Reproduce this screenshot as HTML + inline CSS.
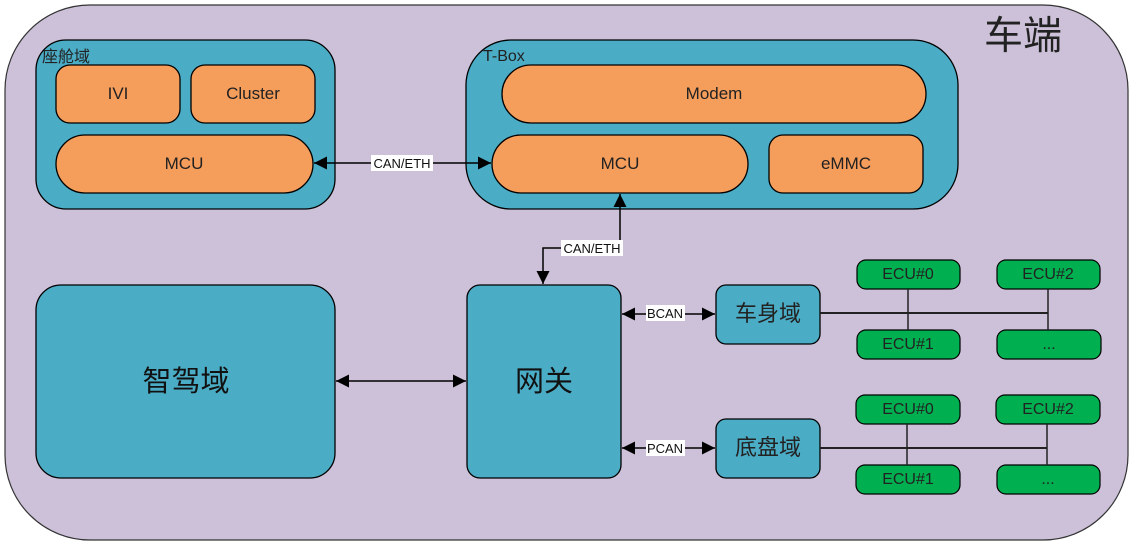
<!DOCTYPE html>
<html><head><meta charset="utf-8"><style>
html,body{margin:0;padding:0;background:#fff;}
svg{display:block;font-family:"Liberation Sans","Noto Sans CJK SC",sans-serif;}
</style></head><body>
<svg width="1136" height="548" viewBox="0 0 1136 548" xmlns="http://www.w3.org/2000/svg">
<defs>
<marker id="a" viewBox="0 0 10 10" refX="10" refY="5" markerWidth="15" markerHeight="13" markerUnits="userSpaceOnUse" orient="auto-start-reverse"><path d="M0,0L10,5L0,10z" fill="#000"/></marker>
</defs>
<rect x="5" y="5" width="1123" height="535" rx="85" fill="#ccc1d9" stroke="#333" stroke-width="1.2"/>
<text x="1023" y="49" font-size="39" fill="#222" text-anchor="middle">车端</text>

<g stroke="#000" stroke-width="1.3">
<rect x="36" y="40" width="299" height="169" rx="30" fill="#4bacc6"/>
<rect x="56" y="65" width="124" height="58" rx="14" fill="#f59d5b"/>
<rect x="191" y="65" width="124" height="58" rx="14" fill="#f59d5b"/>
<rect x="56" y="135" width="257" height="58" rx="29" fill="#f59d5b"/>
<rect x="466" y="40" width="492" height="169" rx="45" fill="#4bacc6"/>
<rect x="502" y="65" width="424" height="58" rx="29" fill="#f59d5b"/>
<rect x="492" y="135" width="256" height="58" rx="29" fill="#f59d5b"/>
<rect x="769" y="135" width="154" height="58" rx="14" fill="#f59d5b"/>
<rect x="36" y="285" width="299" height="193" rx="25" fill="#4bacc6"/>
<rect x="467" y="285" width="154" height="193" rx="13" fill="#4bacc6"/>
<rect x="716" y="285" width="104" height="59" rx="10" fill="#4bacc6"/>
<rect x="716" y="419" width="104" height="59" rx="10" fill="#4bacc6"/>
</g>
<g stroke="#000" stroke-width="1.2" fill="#00b050">
<rect x="857" y="260" width="103" height="29" rx="9"/>
<rect x="997" y="260" width="103" height="29" rx="9"/>
<rect x="857" y="330" width="103" height="29" rx="9"/>
<rect x="997" y="330" width="104" height="29" rx="9"/>
<rect x="856" y="395" width="104" height="29" rx="9"/>
<rect x="996" y="395" width="104" height="29" rx="9"/>
<rect x="856" y="465" width="104" height="29" rx="9"/>
<rect x="997" y="465" width="103" height="29" rx="9"/>
</g>
<g stroke="#222" stroke-width="1.5" fill="none">
<line x1="908" y1="289" x2="908" y2="330"/><line x1="1048" y1="289" x2="1048" y2="330"/>
<line x1="820" y1="313" x2="1048" y2="313" stroke-width="2"/>
<line x1="907" y1="424" x2="907" y2="465"/><line x1="1047" y1="424" x2="1047" y2="465"/>
<line x1="820" y1="448" x2="1047" y2="448" stroke-width="2"/>
</g>
<g stroke="#000" stroke-width="1.5" fill="none">
<line x1="314" y1="163" x2="491" y2="163" marker-start="url(#a)" marker-end="url(#a)"/>
<polyline points="620,194 620,248 543,248 543,284" marker-start="url(#a)" marker-end="url(#a)"/>
<line x1="336" y1="381" x2="466" y2="381" marker-start="url(#a)" marker-end="url(#a)"/>
<line x1="622" y1="314" x2="715" y2="314" marker-start="url(#a)" marker-end="url(#a)"/>
<line x1="622" y1="448" x2="715" y2="448" marker-start="url(#a)" marker-end="url(#a)"/>
</g>
<g fill="#fff">
<rect x="371" y="155" width="62" height="16"/>
<rect x="561" y="240" width="62" height="16"/>
<rect x="646" y="305" width="39" height="16"/>
<rect x="646" y="440" width="39" height="16"/>
</g>
<g font-size="13" fill="#111" text-anchor="middle">
<text x="402" y="168">CAN/ETH</text>
<text x="592" y="253">CAN/ETH</text>
<text x="665" y="318">BCAN</text>
<text x="665" y="453">PCAN</text>
</g>
<g font-size="17" fill="#222" text-anchor="middle">
<text x="118" y="99">IVI</text>
<text x="253" y="99">Cluster</text>
<text x="184" y="169">MCU</text>
<text x="714" y="99">Modem</text>
<text x="620" y="169">MCU</text>
<text x="846" y="169">eMMC</text>
</g>
<text x="42" y="62" font-size="16" fill="#222">座舱域</text>
<text x="483" y="61" font-size="16" fill="#222">T-Box</text>
<g font-size="29" fill="#111" text-anchor="middle">
<text x="186" y="391">智驾域</text>
<text x="544" y="391">网关</text>
</g>
<g font-size="22" fill="#222" text-anchor="middle">
<text x="768" y="321">车身域</text>
<text x="768" y="455">底盘域</text>
</g>
<g font-size="16" fill="#222" text-anchor="middle">
<text x="908" y="279">ECU#0</text>
<text x="1048" y="279">ECU#2</text>
<text x="908" y="349">ECU#1</text>
<text x="1049" y="349">...</text>
<text x="908" y="414">ECU#0</text>
<text x="1048" y="414">ECU#2</text>
<text x="908" y="484">ECU#1</text>
<text x="1048" y="484">...</text>
</g>
</svg>
</body></html>
